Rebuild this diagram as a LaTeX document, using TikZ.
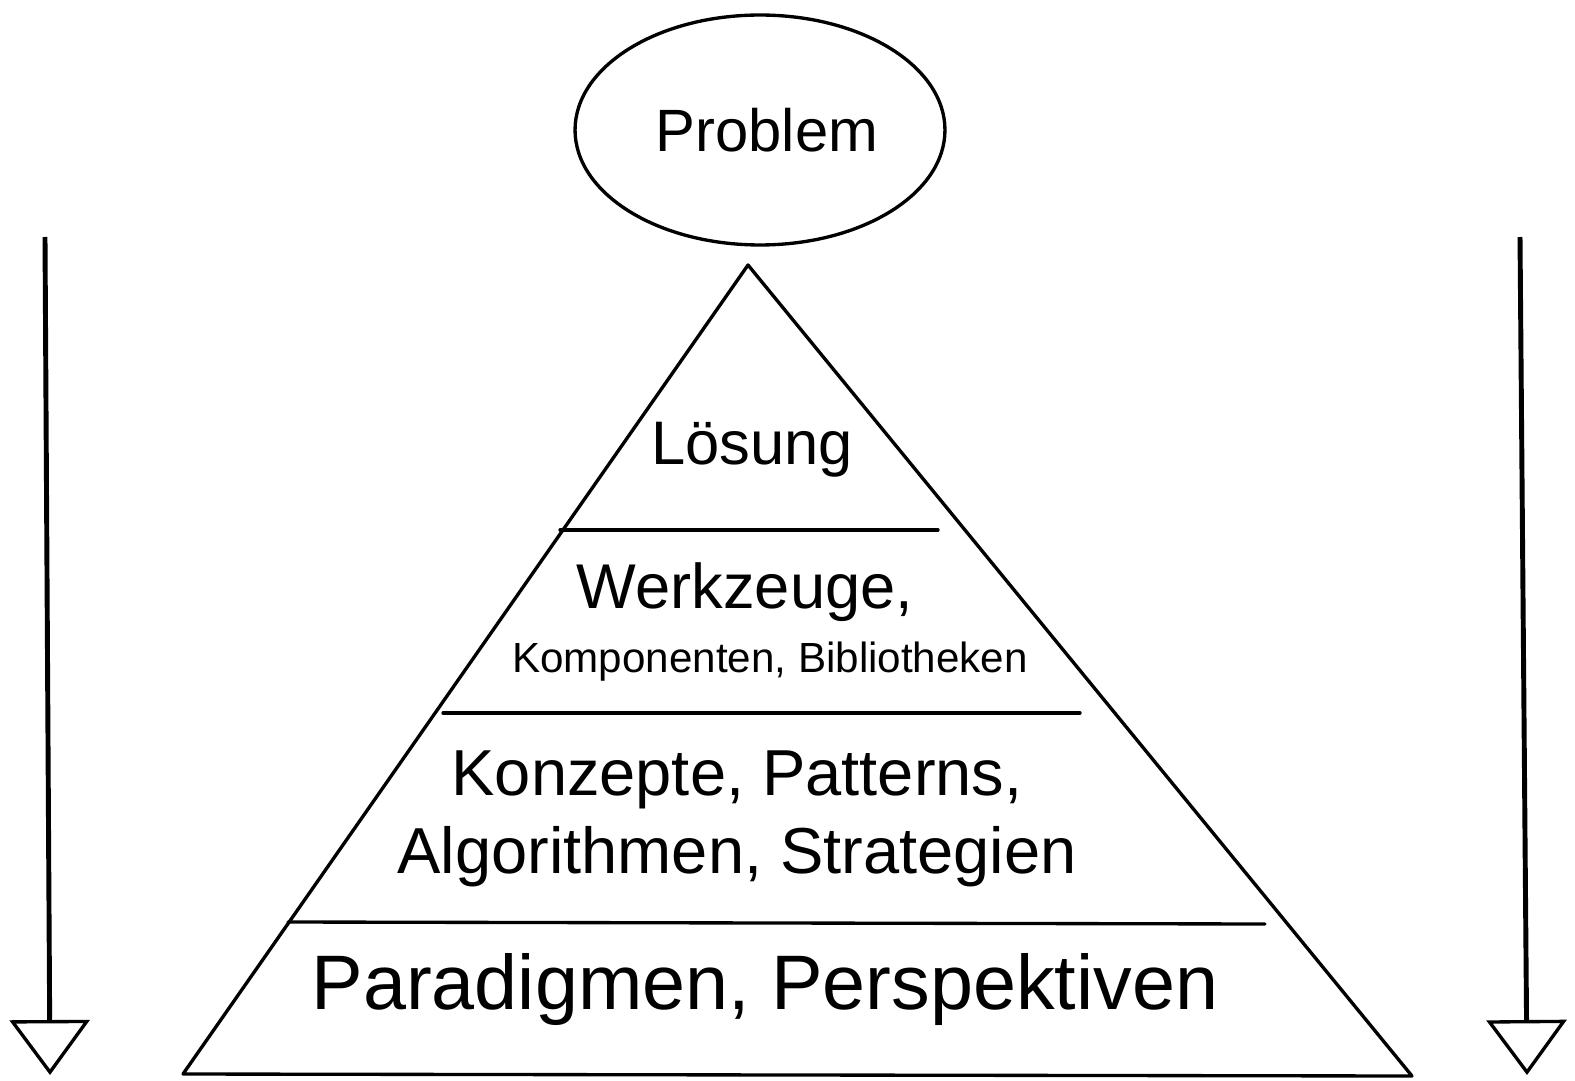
\documentclass[tikz,border=0pt]{standalone}
\usepackage{fontspec}
\setmainfont{Liberation Sans}
\usetikzlibrary{arrows.meta, shapes.geometric}

\begin{document}
\begin{tikzpicture}[
    x=0.02cm, y=-0.02cm,
    stroke/.style={draw, line width=1.9pt, line join=round, line cap=round},
    flow/.style={line width=2.8pt, -{Triangle[open, length=1.1cm, width=1.6cm, line width=1.9pt]}},
    level/.style={align=center, inner sep=0pt}
]
    \useasboundingbox (0,0) rectangle (1575,1081);

    % Problem
    \node[stroke, ellipse, minimum width=7.4cm, minimum height=4.6cm] (problem) at (760,130) {};
    \node[level, font=\fontsize{34}{38}\selectfont] (problemtext) at (767,130) {Problem};

    % Pyramid corners
    \coordinate (apex) at (748,265);
    \coordinate (baseL) at (183,1074);
    \coordinate (baseR) at (1412,1076);
    \draw[stroke] (apex) -- (baseR) -- (baseL) -- cycle;

    % Layer borders
    \coordinate (b1L) at (560,530);  \coordinate (b1R) at (938,530);
    \coordinate (b2L) at (443,713);  \coordinate (b2R) at (1080,713);
    \coordinate (b3L) at (288,922);  \coordinate (b3R) at (1265,924);
    \draw[stroke] (b1L) -- (b1R);
    \draw[stroke] (b2L) -- (b2R);
    \draw[stroke] (b3L) -- (b3R);

    % Layers
    \node[level, font=\fontsize{35}{40}\selectfont] (loesung) at (752,450) {Lösung};
    \node[level, font=\fontsize{36}{40}\selectfont] (werkzeuge) at (745,592) {Werkzeuge,};
    \node[level, font=\fontsize{24}{28}\selectfont] (komponenten) at (770,662) {Komponenten, Bibliotheken};
    \node[level, font=\fontsize{37}{42}\selectfont] (konzepte) at (737,780) {Konzepte, Patterns,};
    \node[level, font=\fontsize{37}{42}\selectfont] (algorithmen) at (737,857) {Algorithmen, Strategien};
    \node[level, font=\fontsize{44}{50}\selectfont] (paradigmen) at (765,990) {Paradigmen, Perspektiven};

    % Side arrows
    \coordinate (leftTop) at (45,237);
    \coordinate (leftEnd) at (50,1075);
    \coordinate (rightTop) at (1520,237);
    \coordinate (rightEnd) at (1527,1075);
    \draw[flow] (leftTop) -- (leftEnd);
    \draw[flow] (rightTop) -- (rightEnd);
\end{tikzpicture}
\end{document}
